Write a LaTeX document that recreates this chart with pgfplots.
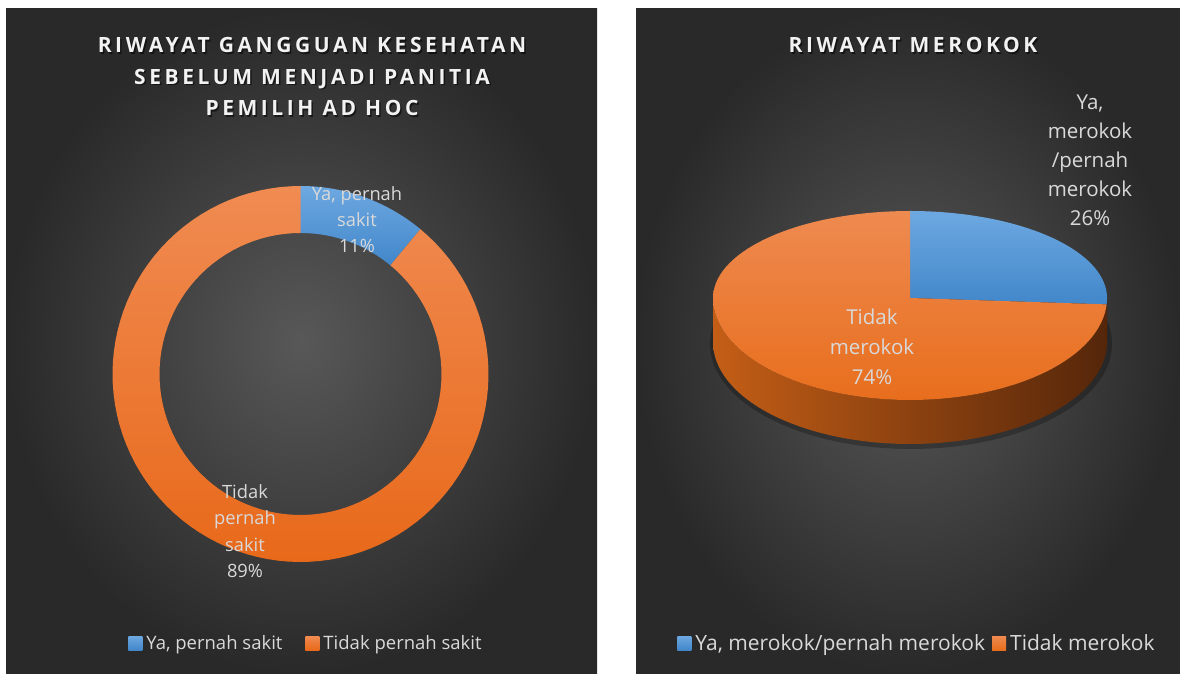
\documentclass[border=0pt]{standalone}
\usepackage{pgfplots}
\pgfplotsset{compat=1.18}
\usepackage{fontspec}
\setmainfont{Open Sans}
\newfontfamily\titlefont{Open Sans}[LetterSpace=17]

\definecolor{bgin}{HTML}{585858}
\definecolor{bgout}{HTML}{292929}
\definecolor{blueT}{HTML}{6DA8E1}
\definecolor{blueB}{HTML}{4287CA}
\definecolor{orT}{HTML}{F08B52}
\definecolor{orB}{HTML}{E8691A}
\definecolor{orT2}{HTML}{EE8A50}
\definecolor{orB2}{HTML}{E86E1D}
\definecolor{sideL}{HTML}{C45E16}
\definecolor{sideM}{HTML}{8E4314}
\definecolor{sideR}{HTML}{55260A}
\definecolor{txt}{HTML}{D9D9D9}
\definecolor{titlec}{HTML}{F2F2F2}

% data (percent)
\def\pctSakitYa{11}
\def\pctSakitTidak{89}
\def\pctRokokYa{26}
\def\pctRokokTidak{74}

\pgfmathsetmacro\aDonut{90-3.6*\pctSakitYa}
\pgfmathsetmacro\aDonutEnd{\aDonut-3.6*\pctSakitTidak}
\pgfmathsetmacro\aPie{90-3.6*\pctRokokYa}
\pgfmathsetmacro\aPieEnd{\aPie-3.6*\pctRokokTidak}

% ring segment of the doughnut: #1 start angle, #2 end angle, #3 style
\newcommand\ringseg[3]{%
\addplot[#3, samples at={0,1,...,201}] (
 {300.5+ifthenelse(x<100.5,188,141)*cos(ifthenelse(x<100.5,(#1)+((#2)-(#1))*x/100,(#2)-((#2)-(#1))*(x-101)/100))},
 {300+ifthenelse(x<100.5,188,141)*sin(ifthenelse(x<100.5,(#1)+((#2)-(#1))*x/100,(#2)-((#2)-(#1))*(x-101)/100))});}

% top face sector of the 3D pie: #1 start angle, #2 end angle, #3 style
\newcommand\pieseg[3]{%
\addplot[#3, samples at={0,1,...,101}] (
 {910+ifthenelse(x<0.5,0,1)*197*cos((#1)+((#2)-(#1))*(x-1)/100)},
 {376+ifthenelse(x<0.5,0,1)*ifthenelse(sin((#1)+((#2)-(#1))*(x-1)/100)>0,87,102)*sin((#1)+((#2)-(#1))*(x-1)/100)});}

\pgfplotsset{panel/.style={at={(0pt,0pt)}, anchor=south west,
  width=1180pt, height=674pt, scale only axis,
  xmin=0, xmax=1180, ymin=0, ymax=674, hide axis,
  legend columns=2,
  legend image code/.code={\fill[##1,draw=none] (0pt,-7pt) rectangle (14pt,7pt); \path (0pt,0pt) -- (16pt,0pt);},
  legend style={draw=none, fill=none, text=txt, anchor=center}}}

\begin{document}
\begin{tikzpicture}
% ---------------- left panel: doughnut ----------------
\begin{axis}[panel,
  legend style={at={(306/1180,31/674)}, font=\fontsize{18.5}{22}\selectfont,
    /tikz/every even column/.append style={column sep=21pt}}]
\fill[white] (0,0) rectangle (1180,674);
\fill[inner color=bgin, outer color=bgout] (6,0) rectangle (597,665);
\ringseg{90}{\aDonut}{draw=none, top color=blueT, bottom color=blueB}
\addlegendentry{Ya, pernah sakit}
\ringseg{\aDonut}{\aDonutEnd}{draw=none, top color=orT, bottom color=orB}
\addlegendentry{Tidak pernah sakit}
\node[align=center, text=black, opacity=0.55, font=\titlefont\bfseries\fontsize{21}{31.5}\selectfont]
  at (313.5,595.5) {RIWAYAT GANGGUAN KESEHATAN\\SEBELUM MENJADI PANITIA\\PEMILIH AD HOC};
\node[align=center, text=titlec, font=\titlefont\bfseries\fontsize{21}{31.5}\selectfont]
  at (312,597) {RIWAYAT GANGGUAN KESEHATAN\\SEBELUM MENJADI PANITIA\\PEMILIH AD HOC};
\node[align=center, text=txt, font=\fontsize{18.3}{26}\selectfont]
  at (357,454) {Ya, pernah\\sakit\\11\%};
\node[align=center, text=txt, font=\fontsize{18.3}{26.5}\selectfont]
  at (245,143) {Tidak\\pernah\\sakit\\89\%};
\end{axis}
% ---------------- right panel: 3D pie ----------------
\begin{axis}[panel,
  legend style={at={(917/1180,31/674)}, font=\fontsize{21}{24}\selectfont,
    /tikz/every even column/.append style={column sep=5pt}}]
\fill[inner color=bgin, outer color=bgout] (636,0) rectangle (1180,665);
% soft shadow under the pie
\fill[black, opacity=0.25] (911,330) ellipse [x radius=201, y radius=105];
% side of the cylinder (front half)
\addplot[forget plot, draw=none, left color=sideL, middle color=sideM, right color=sideR,
  samples at={0,1,...,201}] (
 {910+197*cos(ifthenelse(x<100.5,-180+180*x/100,-180*(x-101)/100))},
 {376-ifthenelse(x<100.5,0,44)+102*sin(ifthenelse(x<100.5,-180+180*x/100,-180*(x-101)/100))});
\pieseg{90}{\aPie}{draw=none, top color=blueT, bottom color=blueB}
\addlegendentry{Ya, merokok/pernah merokok}
\pieseg{\aPie}{\aPieEnd}{draw=none, top color=orT2, bottom color=orB2}
\addlegendentry{Tidak merokok}
\node[text=black, opacity=0.55, font=\titlefont\bfseries\fontsize{21}{31}\selectfont]
  at (914.5,627.5) {RIWAYAT MEROKOK};
\node[text=titlec, font=\titlefont\bfseries\fontsize{21}{31}\selectfont]
  at (913,629) {RIWAYAT MEROKOK};
\node[align=center, text=txt, font=\fontsize{20.5}{29}\selectfont]
  at (1090,514) {Ya,\\merokok\\/pernah\\merokok\\26\%};
\node[align=center, text=txt, font=\fontsize{20.5}{30}\selectfont]
  at (872,327) {Tidak\\merokok\\74\%};
\end{axis}
\end{tikzpicture}
\end{document}
